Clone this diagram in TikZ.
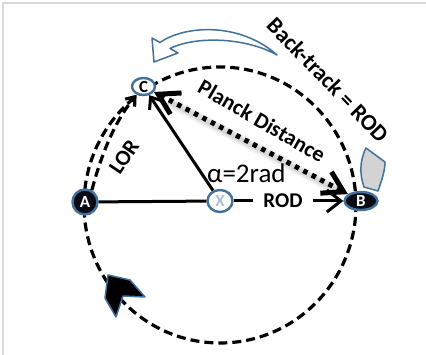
\documentclass[tikz,border=0pt]{standalone}
\usepackage{fontspec}
\setmainfont{Carlito}
\usetikzlibrary{arrows.meta,shapes.geometric}
\definecolor{rimblue}{HTML}{41719C}
\definecolor{pointfill}{HTML}{0B0B16}
\definecolor{framegray}{HTML}{D9D9D9}
\definecolor{bandgray}{HTML}{D3D3D3}
\tikzset{
  pt/.style={ellipse, draw=rimblue, line width=2.4pt, inner sep=0pt,
    font=\fontsize{17}{17}\selectfont\bfseries},
  darkpt/.style={pt, fill=pointfill, text=white},
  lightpt/.style={pt, fill=white},
  solidbar/.style={line width=3pt, draw=black},
  ring/.style={line width=3.2pt, dash pattern=on 9pt off 5pt},
  plancksty/.style={line width=5pt, dash pattern=on 4.5pt off 5pt},
  bigbarb/.style={Straight Barb[length=20pt, width=24pt]},
  boldlbl/.style={font=\fontsize{22}{22}\selectfont\bfseries},
  blockarrow/.style={draw=rimblue, line width=1.5pt, line join=round},
}
\begin{document}
\begin{tikzpicture}[x=1pt, y=-1pt]
\useasboundingbox (0,0) rectangle (426,355);
% frame
\draw[framegray, line width=1.5pt] (3,355) -- (3,3) -- (426,3);
% the circle
\draw[ring] (220,205) ellipse [x radius=136pt, y radius=138pt];
% points
\node[darkpt, minimum width=25pt, minimum height=25pt] (A) at (85,202) {A};
\node[darkpt, minimum width=33pt, minimum height=18pt] (B) at (361,201) {B};
\node[lightpt, minimum width=23pt, minimum height=17pt] (C) at (143.5,86.5) {C};
\node[lightpt, minimum width=25pt, minimum height=22pt] (X) at (220,201) {\textcolor{rimblue!45}{X}};
% soft shadow of the Planck line
\foreach \w/\o in {11/0.04, 8/0.05, 5/0.07}
  \draw[black, opacity=\o, line width=\w pt, shorten <=14pt, shorten >=14pt, transform canvas={xshift=2pt, yshift=-3pt}] (C) -- (B);
% radius lines
\draw[solidbar] (A) -- (X);
\draw[solidbar, -{Straight Barb[length=10pt, width=16pt]}] (X) -- (C);
\draw[solidbar, -{Straight Barb[length=14pt, width=22pt]}] (X) -- node[pos=0.45, fill=white, font=\fontsize{21}{21}\selectfont\bfseries, inner xsep=10pt, inner ysep=2pt] (rod) {ROD} (B);
% LOR arc
\draw[ring, -{Straight Barb[length=8pt, width=12pt]}] (A.60) .. controls (100,160) and (112,125) .. (C.230);
% Planck distance
\draw[plancksty, {Straight Barb[length=20pt, width=24pt]}-{Straight Barb[length=20pt, width=24pt]}] (C) -- (B);
% labels
\node[font=\fontsize{27}{27}\selectfont, anchor=base west, inner sep=0pt] (alpha) at (207,183) {α=2rad};
\node[boldlbl, rotate=56] (lor) at (124,157) {LOR};
\node[boldlbl, rotate=-30] (pd) at (262,121) {Planck Distance};
\node[font=\fontsize{23}{23}\selectfont\bfseries, rotate=-46] (bt) at (328,80) {Back-track = ROD};
% curved block arrow above the circle
\draw[blockarrow, fill=white] (277,55) .. controls (240,22) and (185,25) .. (160,42.5) -- (152,38) -- (154,62) -- (178,53) -- (170,48.5) .. controls (195,36) and (245,37) .. (277,55) -- cycle;
% grey band beside B
\draw[blockarrow, fill=bandgray] (366,148) .. controls (359,162) and (360,176) .. (364,187) -- (378,191) .. controls (382,180) and (385,170) .. (385,162) -- cycle;
% chevron on the lower arc
\draw[blockarrow, fill=black] (108,275) -- (130,280) -- (145,297) -- (123,296) -- (116,317) -- (105,298) -- cycle;
\end{tikzpicture}
\end{document}
